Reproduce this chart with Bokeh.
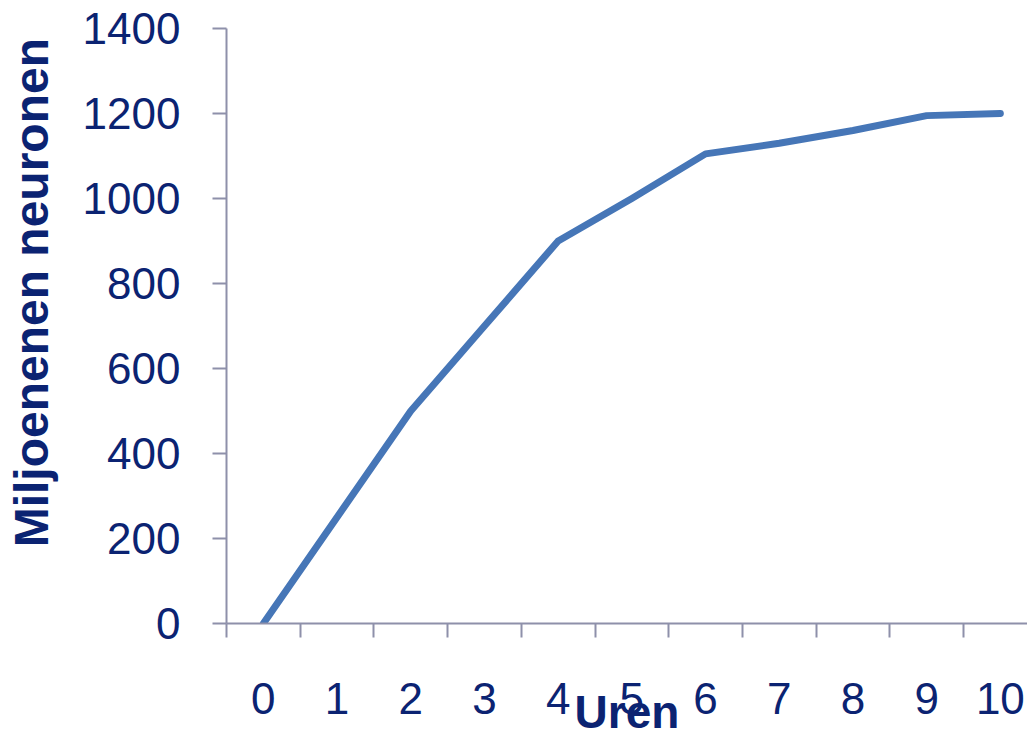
from bokeh.plotting import figure
from bokeh.models import Range1d, FixedTicker
from bokeh.embed import file_html
from bokeh.resources import INLINE

# Data
uren = [0, 1, 2, 3, 4, 5, 6, 7, 8, 9, 10]
neuronen = [0, 250, 500, 700, 900, 1000, 1105, 1130, 1160, 1195, 1200]
y_ticks = [0, 200, 400, 600, 800, 1000, 1200, 1400]
x_title = "Uren"
y_title = "Miljoenenen neuronen"

TEXT = "#0B2372"
AXIS = "#8E90AA"
LINE = "#4676B7"
FONT = "Liberation Sans"

p = figure(width=1027, height=741, output_backend="svg", toolbar_location=None,
           x_range=Range1d(-0.5, -0.5 + 801 / 73.7), y_range=Range1d(0, 1400),
           min_border_left=226, min_border_right=0, min_border_top=28, min_border_bottom=118)
p.outline_line_color = None
p.grid.visible = False
p.background_fill_color = "white"
p.border_fill_color = "white"

p.line(uren, neuronen, line_color=LINE, line_width=7, line_cap="round", line_join="round")

# x axis
xa = p.xaxis[0]
xa.ticker = FixedTicker(ticks=uren, minor_ticks=[u - 0.5 for u in uren] + [uren[-1] + 0.5])
xa.major_tick_out = 0
xa.major_tick_in = 0
xa.minor_tick_out = 14
xa.minor_tick_in = 0
xa.minor_tick_line_color = AXIS
xa.minor_tick_line_width = 2
xa.axis_line_color = AXIS
xa.axis_line_width = 2
xa.major_label_text_font = FONT
xa.major_label_text_font_size = "44px"
xa.major_label_text_color = TEXT
xa.major_label_standoff = 45
xa.axis_label = x_title
xa.axis_label_text_font = FONT
xa.axis_label_text_font_style = "bold"
xa.axis_label_text_font_size = "46px"
xa.axis_label_text_color = TEXT
xa.axis_label_standoff = -31

# y axis
ya = p.yaxis[0]
ya.ticker = FixedTicker(ticks=y_ticks, minor_ticks=[])
ya.major_tick_out = 14
ya.major_tick_in = 0
ya.major_tick_line_color = AXIS
ya.major_tick_line_width = 2
ya.axis_line_color = AXIS
ya.axis_line_width = 2
ya.major_label_text_font = FONT
ya.major_label_text_font_size = "44px"
ya.major_label_text_color = TEXT
ya.major_label_standoff = 32
# leading non-breaking spaces shift the (centred) title upward like in the reference
ya.axis_label = "\u00a0" * 5 + y_title
ya.axis_label_text_font = FONT
ya.axis_label_text_font_style = "bold"
ya.axis_label_text_font_size = "48px"
ya.axis_label_text_color = TEXT
ya.axis_label_standoff = 22

open("out.html", "w").write(file_html(p, INLINE))
